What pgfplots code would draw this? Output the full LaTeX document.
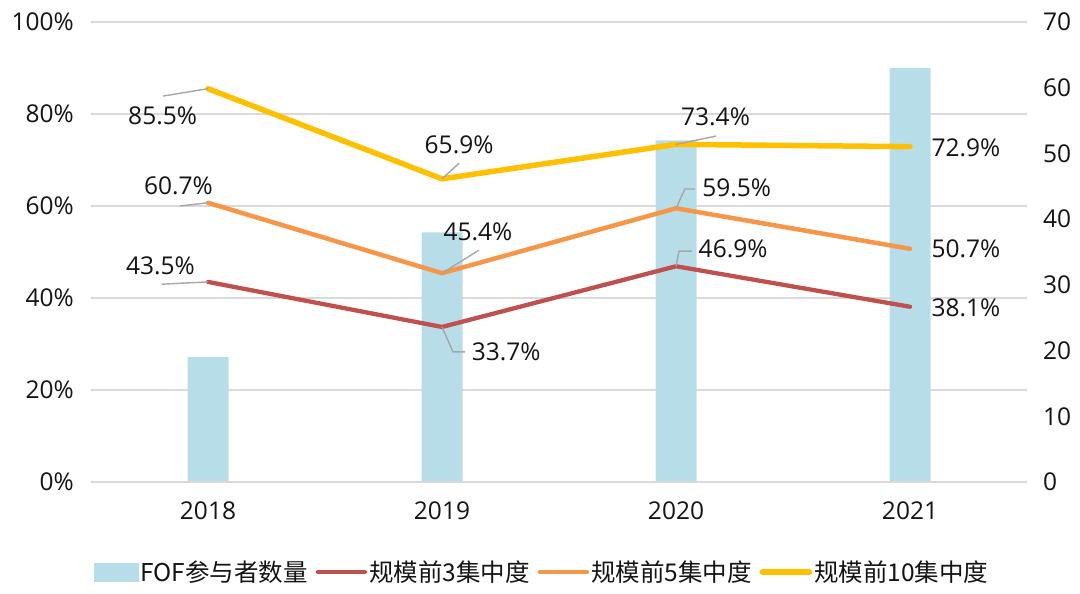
\documentclass[border=0pt]{standalone}
\usepackage{pgfplots}
\pgfplotsset{compat=1.18}
\usepackage{fontspec}
\setmainfont{Open Sans}
\newfontfamily\cjk{Noto Sans CJK SC}

\definecolor{barblue}{RGB}{183,222,232}
\definecolor{top3red}{RGB}{192,80,77}
\definecolor{top5orange}{RGB}{247,150,70}
\definecolor{top10yellow}{RGB}{255,192,0}
\definecolor{gridgray}{RGB}{217,217,217}
\definecolor{leadergray}{RGB}{166,166,166}
\definecolor{textblack}{RGB}{20,20,20}

\pgfplotsset{
  base/.style={
    scale only axis, width=936bp, height=460bp,
    at={(0,0)}, anchor=south west,
    xmin=-0.5, xmax=3.5,
    major tick length=0pt,
    tick style={draw=none},
    every tick label/.append style={font=\fontsize{24.5bp}{28bp}\selectfont, text=textblack},
  },
}
\tikzset{
  leader/.style={draw=leadergray, line width=1.4bp},
  lbl/.style={anchor=base, font=\fontsize{24.5bp}{28bp}\selectfont, text=textblack, inner sep=0pt},
}

\begin{document}
\begin{tikzpicture}

% left axis: grid, percent ticks, year labels
\begin{axis}[base,
  ymin=0, ymax=100,
  axis x line*=bottom, axis y line*=left,
  x axis line style={draw=none}, y axis line style={draw=none},
  ytick={0,20,40,60,80,100},
  yticklabels={0\%,20\%,40\%,60\%,80\%,100\%},
  yticklabel style={inner sep=0pt, xshift=-17bp},
  xtick={0,1,2,3},
  xticklabels={2018,2019,2020,2021},
  xticklabel style={inner sep=0pt, yshift=-20bp},
  ymajorgrids,
  grid style={draw=gridgray, line width=1.2bp},
]
\end{axis}

% right axis: FOF participant counts
\begin{axis}[base,
  ymin=0, ymax=70,
  axis x line=none, axis y line*=right,
  y axis line style={draw=none},
  ytick={0,10,20,30,40,50,60,70},
  yticklabels={0,10,20,30,40,50,60,70},
  yticklabel style={inner sep=0pt, xshift=16bp},
]
\addplot[ybar, bar width=41bp, fill=barblue, draw=none]
coordinates {(0,19) (1,38) (2,52) (3,63)};
\end{axis}

% concentration lines on the left scale
\begin{axis}[base,
  ymin=0, ymax=100,
  axis x line*=bottom, axis y line=none,
  x axis line style={draw=gridgray, line width=1.5bp},
  xtick=\empty, ytick=\empty,
  legend image code/.code={\draw[#1] (0bp,0bp) -- (47bp,0bp);},
  legend style={at={(0.482,-0.196)}, anchor=center, draw=none, fill=none,
    legend columns=4,
    font=\fontsize{24.5bp}{28bp}\selectfont\cjk, text=textblack,
    /tikz/every even column/.append style={column sep=6bp}},
]
\addlegendimage{legend image code/.code={\fill[barblue] (0bp,-9bp) rectangle (44bp,9bp);}}
\addlegendentry{FOF参与者数量}
\addplot[top3red, line width=4.3bp, line join=round, line cap=round]
coordinates {(0,43.5) (1,33.7) (2,46.9) (3,38.1)};
\addlegendentry{规模前3集中度}
\addplot[top5orange, line width=4.5bp, line join=round, line cap=round]
coordinates {(0,60.7) (1,45.4) (2,59.5) (3,50.7)};
\addlegendentry{规模前5集中度}
\addplot[top10yellow, line width=5.5bp, line join=round, line cap=round]
coordinates {(0,85.5) (1,65.9) (2,73.4) (3,72.9)};
\addlegendentry{规模前10集中度}

% leader lines
\draw[leader] (axis cs:0,85.5) -- (axis cs:-0.192,83.9);
\draw[leader] (axis cs:0,60.7) -- (axis cs:-0.120,60.0);
\draw[leader] (axis cs:0,43.5) -- (axis cs:-0.197,43.0);
\draw[leader] (axis cs:1,65.9) -- (axis cs:1.073,69.3);
\draw[leader] (axis cs:1,45.4) -- (axis cs:1.158,50.4);
\draw[leader] (axis cs:1,33.7) -- (axis cs:1.047,28.3) -- (axis cs:1.098,28.3);
\draw[leader] (axis cs:2,73.4) -- (axis cs:2.171,75.2);
\draw[leader] (axis cs:2,59.5) -- (axis cs:2.038,63.7) -- (axis cs:2.081,63.7);
\draw[leader] (axis cs:2,46.9) -- (axis cs:2.013,50.2) -- (axis cs:2.068,50.2);

% data labels
\node[lbl] at (axis cs:-0.194,77.8) {85.5\%};
\node[lbl] at (axis cs:-0.126,62.4) {60.7\%};
\node[lbl] at (axis cs:-0.203,45.0) {43.5\%};
\node[lbl] at (axis cs:1.073,71.5) {65.9\%};
\node[lbl] at (axis cs:1.154,52.4) {45.4\%};
\node[lbl] at (axis cs:1.274,26.5) {33.7\%};
\node[lbl] at (axis cs:2.169,77.4) {73.4\%};
\node[lbl] at (axis cs:2.259,62.0) {59.5\%};
\node[lbl] at (axis cs:2.244,48.7) {46.9\%};
\node[lbl] at (axis cs:3.239,70.7) {72.9\%};
\node[lbl] at (axis cs:3.239,48.7) {50.7\%};
\node[lbl] at (axis cs:3.239,35.9) {38.1\%};
\end{axis}

\pgfresetboundingbox
\path[use as bounding box] (-91bp,-112bp) rectangle (989bp,482bp);
\end{tikzpicture}
\end{document}
